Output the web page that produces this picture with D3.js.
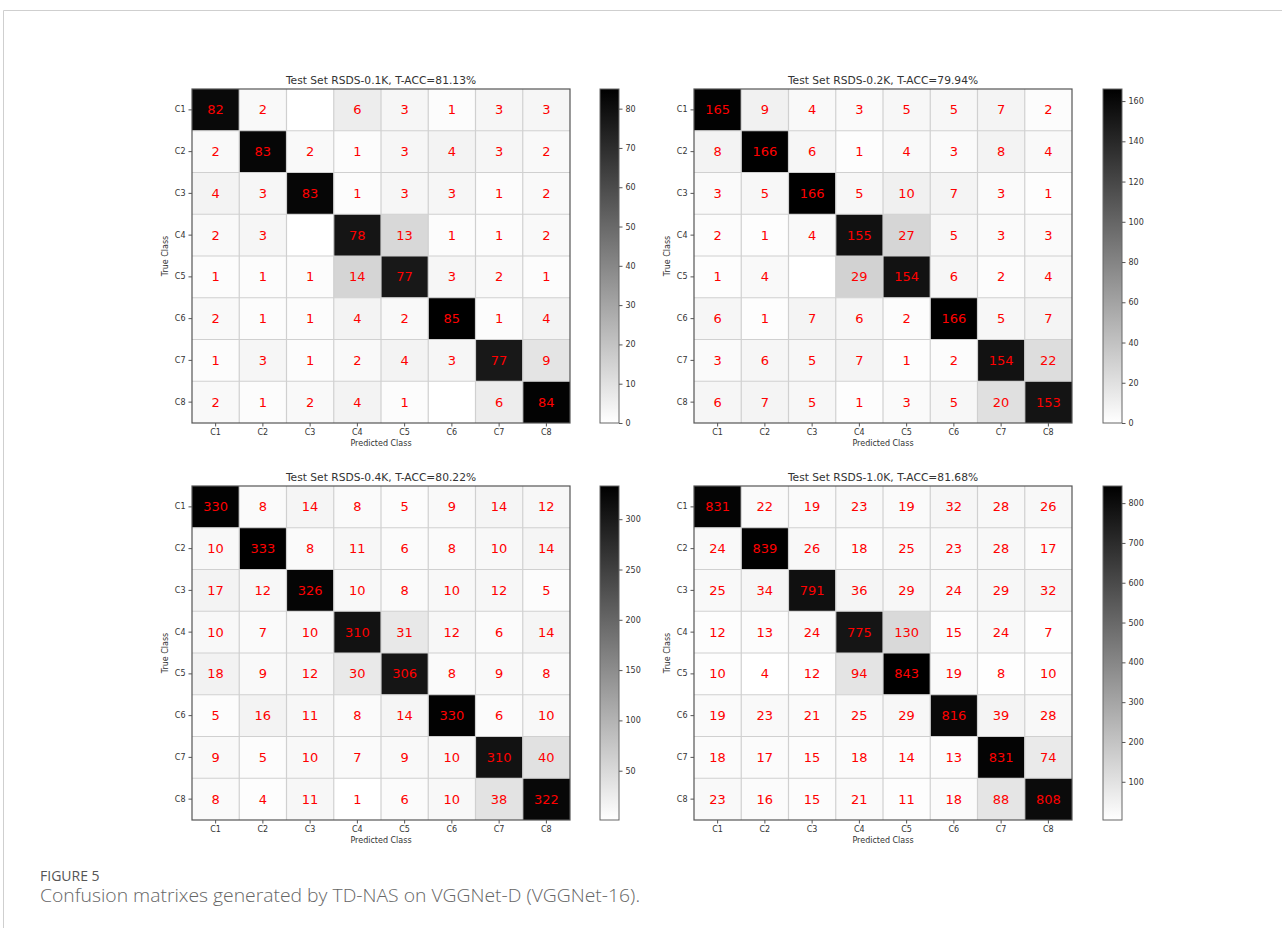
<!DOCTYPE html>
<html>
<head>
  <meta charset="UTF-8">
  <title>Confusion matrixes</title>
  <style>
    body {
      margin: 0;
      padding: 0;
      background: #fff;
    }
    svg {
      display: block;
    }
  </style>
</head>
<body>
  <svg id="chart"></svg>

  <script src="https://cdn.jsdelivr.net/npm/d3@7"></script>
  <script>
    // class labels (rows = true class, cols = predicted class)
    let classes = ["C1", "C2", "C3", "C4", "C5", "C6", "C7", "C8"];

    let titles = [
      "Test Set RSDS-0.1K, T-ACC=81.13%",
      "Test Set RSDS-0.2K, T-ACC=79.94%",
      "Test Set RSDS-0.4K, T-ACC=80.22%",
      "Test Set RSDS-1.0K, T-ACC=81.68%"
    ];

    let m01 = [
      [82, 2, 0, 6, 3, 1, 3, 3],
      [2, 83, 2, 1, 3, 4, 3, 2],
      [4, 3, 83, 1, 3, 3, 1, 2],
      [2, 3, 0, 78, 13, 1, 1, 2],
      [1, 1, 1, 14, 77, 3, 2, 1],
      [2, 1, 1, 4, 2, 85, 1, 4],
      [1, 3, 1, 2, 4, 3, 77, 9],
      [2, 1, 2, 4, 1, 0, 6, 84]
    ];

    let m02 = [
      [165, 9, 4, 3, 5, 5, 7, 2],
      [8, 166, 6, 1, 4, 3, 8, 4],
      [3, 5, 166, 5, 10, 7, 3, 1],
      [2, 1, 4, 155, 27, 5, 3, 3],
      [1, 4, 0, 29, 154, 6, 2, 4],
      [6, 1, 7, 6, 2, 166, 5, 7],
      [3, 6, 5, 7, 1, 2, 154, 22],
      [6, 7, 5, 1, 3, 5, 20, 153]
    ];

    let m04 = [
      [330, 8, 14, 8, 5, 9, 14, 12],
      [10, 333, 8, 11, 6, 8, 10, 14],
      [17, 12, 326, 10, 8, 10, 12, 5],
      [10, 7, 10, 310, 31, 12, 6, 14],
      [18, 9, 12, 30, 306, 8, 9, 8],
      [5, 16, 11, 8, 14, 330, 6, 10],
      [9, 5, 10, 7, 9, 10, 310, 40],
      [8, 4, 11, 1, 6, 10, 38, 322]
    ];

    let m10 = [
      [831, 22, 19, 23, 19, 32, 28, 26],
      [24, 839, 26, 18, 25, 23, 28, 17],
      [25, 34, 791, 36, 29, 24, 29, 32],
      [12, 13, 24, 775, 130, 15, 24, 7],
      [10, 4, 12, 94, 843, 19, 8, 10],
      [19, 23, 21, 25, 29, 816, 39, 28],
      [18, 17, 15, 18, 14, 13, 831, 74],
      [23, 16, 15, 21, 11, 18, 88, 808]
    ];

    let matrices = [m01, m02, m04, m10];

    let width = 1282, height = 928;

    let svg = d3.select("#chart")
        .attr("width", width)
        .attr("height", height);

    // page frame
    svg.append("path")
        .attr("d", "M3.5," + height + "V10.5H" + width)
        .attr("fill", "none")
        .attr("stroke", "#cfcfcf")
        .attr("stroke-width", 1);

    let defs = svg.append("defs");
    let grad = defs.append("linearGradient")
        .attr("id", "cbar")
        .attr("x1", 0).attr("y1", 1).attr("x2", 0).attr("y2", 0);
    grad.append("stop").attr("offset", "0%").attr("stop-color", "#ffffff");
    grad.append("stop").attr("offset", "100%").attr("stop-color", "#000000");

    let fontMain = "'DejaVu Sans', sans-serif";

    let panelPos = [
      {x: 192, y: 89, cb: 600},
      {x: 694, y: 89, cb: 1103},
      {x: 192, y: 486, cb: 600},
      {x: 694, y: 486, cb: 1103}
    ];
    let mw = 378, mh = 334, cbw = 19;

    matrices.forEach((m, i) => {
      let p = panelPos[i];
      let g = svg.append("g").attr("transform", "translate(" + p.x + "," + p.y + ")");

      let flat = m.flat();
      let vmin = d3.min(flat), vmax = d3.max(flat);
      let color = d3.scaleLinear().domain([vmin, vmax]).range(["#ffffff", "#000000"]);

      let x = d3.scaleBand().domain(classes).range([0, mw]);
      let y = d3.scaleBand().domain(classes).range([0, mh]);

      let cells = [];
      m.forEach((row, r) => row.forEach((v, c) => cells.push({r: classes[r], c: classes[c], v: v})));

      g.selectAll("rect.cell")
        .data(cells)
        .enter()
        .append("rect")
        .attr("class", "cell")
        .attr("x", d => x(d.c))
        .attr("y", d => y(d.r))
        .attr("width", x.bandwidth())
        .attr("height", y.bandwidth())
        .attr("fill", d => color(d.v));

      // light grid between cells
      g.selectAll("line.gx")
        .data(classes.slice(1))
        .enter()
        .append("line")
        .attr("x1", d => x(d)).attr("x2", d => x(d))
        .attr("y1", 0).attr("y2", mh)
        .attr("stroke", "#d0d0d0").attr("stroke-width", 1.2);
      g.selectAll("line.gy")
        .data(classes.slice(1))
        .enter()
        .append("line")
        .attr("y1", d => y(d)).attr("y2", d => y(d))
        .attr("x1", 0).attr("x2", mw)
        .attr("stroke", "#d0d0d0").attr("stroke-width", 1.2);

      g.selectAll("text.val")
        .data(cells.filter(d => d.v > 0))
        .enter()
        .append("text")
        .attr("x", d => x(d.c) + x.bandwidth() / 2)
        .attr("y", d => y(d.r) + y.bandwidth() / 2)
        .attr("text-anchor", "middle")
        .attr("dominant-baseline", "central")
        .attr("font-family", fontMain)
        .attr("font-size", "13px")
        .attr("fill", "#ff0000")
        .text(d => d.v);

      g.append("rect")
        .attr("width", mw).attr("height", mh)
        .attr("fill", "none").attr("stroke", "#555").attr("stroke-width", 1.2);

      // axes
      let xAxis = g.append("g")
          .attr("transform", "translate(0," + mh + ")")
          .call(d3.axisBottom(x).tickSizeOuter(0).tickSize(3.5).tickPadding(3));
      let yAxis = g.append("g")
          .call(d3.axisLeft(y).tickSizeOuter(0).tickSize(3.5).tickPadding(3));
      [xAxis, yAxis].forEach(a => {
        a.select(".domain").remove();
        a.selectAll("line").attr("stroke", "#555");
        a.selectAll("text").attr("font-family", fontMain).attr("font-size", "8px").attr("fill", "#333");
      });

      g.append("text")
        .attr("x", mw / 2).attr("y", -5)
        .attr("text-anchor", "middle")
        .attr("font-family", fontMain)
        .attr("font-size", "10.7px")
        .attr("fill", "#333")
        .text(titles[i]);

      g.append("text")
        .attr("x", mw / 2).attr("y", mh + 23)
        .attr("text-anchor", "middle")
        .attr("font-family", fontMain)
        .attr("font-size", "8px")
        .attr("fill", "#333")
        .text("Predicted Class");

      g.append("text")
        .attr("transform", "translate(-24," + (mh / 2) + ") rotate(-90)")
        .attr("text-anchor", "middle")
        .attr("font-family", fontMain)
        .attr("font-size", "8px")
        .attr("fill", "#333")
        .text("True Class");

      // colorbar
      let cg = svg.append("g").attr("transform", "translate(" + p.cb + "," + p.y + ")");
      cg.append("rect")
        .attr("width", cbw).attr("height", mh)
        .attr("fill", "url(#cbar)")
        .attr("stroke", "#666").attr("stroke-width", 1);
      let cy = d3.scaleLinear().domain([vmin, vmax]).range([mh, 0]);
      let cAxis = cg.append("g")
          .attr("transform", "translate(" + cbw + ",0)")
          .call(d3.axisRight(cy).ticks(10).tickSize(3.5).tickPadding(3));
      cAxis.select(".domain").remove();
      cAxis.selectAll("line").attr("stroke", "#555");
      cAxis.selectAll("text").attr("font-family", fontMain).attr("font-size", "8px").attr("fill", "#333");
    });

    // caption
    svg.append("text")
      .attr("x", 40).attr("y", 881)
      .attr("font-family", "'Open Sans', sans-serif")
      .attr("font-size", "14px")
      .attr("fill", "#555")
      .text("FIGURE 5");
    svg.append("text")
      .attr("x", 40).attr("y", 902)
      .attr("font-family", "'Open Sans', sans-serif")
      .attr("font-size", "18px")
      .attr("font-weight", 300)
      .attr("fill", "#666")
      .attr("textLength", 600)
      .attr("lengthAdjust", "spacingAndGlyphs")
      .text("Confusion matrixes generated by TD-NAS on VGGNet-D (VGGNet-16).");
  </script>
</body>
</html>
